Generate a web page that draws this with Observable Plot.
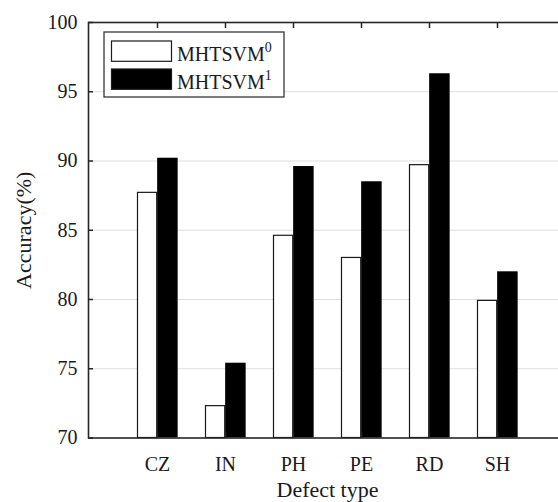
<!DOCTYPE html>
<html><head><meta charset="utf-8">
<script src="https://cdn.jsdelivr.net/npm/d3@7"></script>
<script src="https://cdn.jsdelivr.net/npm/@observablehq/plot@0.6"></script>
<style>
body{margin:0;background:#fff;}
#wrap{position:relative;width:558px;height:502px;overflow:hidden;}
</style></head>
<body><div id="wrap"></div>
<script>
const categories = ["CZ", "IN", "PH", "PE", "RD", "SH"];
const mhtsvm0 = [87.7, 72.3, 84.6, 83.0, 89.7, 79.9];
const mhtsvm1 = [90.2, 75.4, 89.6, 88.5, 96.3, 82.0];
const yTicks = [70, 75, 80, 85, 90, 95, 100];
const seriesNames = ["MHTSVM", "MHTSVM"];
const seriesSup = ["0", "1"];
const seriesFill = ["#ffffff", "#000000"];

const FONT = "'Liberation Serif', serif";
const INK = "#262626";

const data0 = categories.map((c, i) => ({cat: c, value: mhtsvm0[i]}));
const data1 = categories.map((c, i) => ({cat: c, value: mhtsvm1[i]}));

const chart = Plot.plot({
  width: 558, height: 502,
  marginLeft: 88, marginTop: 22, marginBottom: 64.5, marginRight: -8,
  style: {fontFamily: FONT, fontSize: "20px", color: INK, background: "#fff"},
  x: {domain: categories, range: [88, 566], paddingInner: 0, paddingOuter: 0.5, axis: null},
  y: {domain: [70, 100], range: [437.5, 22], axis: null},
  marks: [
    Plot.gridY(yTicks.slice(1, -1), {stroke: "#dedede", strokeOpacity: 1, strokeWidth: 1.2}),
    Plot.barY(data0, {x: "cat", y1: 70, y2: "value", fill: seriesFill[0], stroke: "#1a1a1a", strokeWidth: 1.2, insetLeft: 24.4, insetRight: 24.4, dx: -9.9}),
    Plot.barY(data1, {x: "cat", y1: 70, y2: "value", fill: seriesFill[1], insetLeft: 23.75, insetRight: 23.75, dx: 10.4}),
    Plot.axisY(yTicks, {anchor: "left", tickSize: 0, tickPadding: 11, fontSize: 20, fontFamily: FONT, label: null, fill: "#1a1a1a"}),
    Plot.axisY(yTicks, {anchor: "left", tickSize: -5, tickFormat: () => "", label: null, stroke: INK, strokeWidth: 1.5}),
    Plot.axisX({anchor: "bottom", tickSize: 0, tickPadding: 18.3, fontSize: 20, fontFamily: FONT, label: null, fill: "#1a1a1a"}),
    Plot.axisX({anchor: "bottom", tickSize: -5, tickFormat: () => "", label: null, stroke: INK, strokeWidth: 1.5}),
    Plot.axisX({anchor: "top", tickSize: -5, tickFormat: () => "", label: null, stroke: INK, strokeWidth: 1.5}),
    Plot.frame({stroke: INK, strokeWidth: 1.6}),
    Plot.text(["Accuracy(%)"], {frameAnchor: "left", textAnchor: "middle", rotate: -90, dx: -65, fontSize: 22, fontFamily: FONT, fill: "#1a1a1a"}),
    Plot.text(["Defect type"], {frameAnchor: "bottom", textAnchor: "middle", lineAnchor: "bottom", dy: 58.5, fontSize: 22, fontFamily: FONT, fill: "#1a1a1a"})
  ]
});

// Legend inside the plot area (MATLAB-style)
const svg = d3.select(chart);
const lg = svg.append("g").attr("font-family", FONT).attr("fill", "#1a1a1a").attr("text-anchor", "start");
lg.append("rect").attr("x", 104).attr("y", 32).attr("width", 180).attr("height", 65)
  .attr("fill", "#fff").attr("stroke", INK).attr("stroke-width", 1.2);
const rows = [{sy: 41, ty: 61.3}, {sy: 69, ty: 89}];
seriesNames.forEach((name, i) => {
  lg.append("rect").attr("x", 111.5).attr("y", rows[i].sy).attr("width", 60).attr("height", 20.3)
    .attr("fill", seriesFill[i]).attr("stroke", "#1a1a1a").attr("stroke-width", 1.2);
  const t = lg.append("text").attr("x", 177).attr("y", rows[i].ty).attr("font-size", 20).attr("text-anchor", "start");
  t.append("tspan").text(name);
  t.append("tspan").attr("dy", -9).attr("font-size", 14).text(seriesSup[i]);
});

document.getElementById("wrap").appendChild(chart);
</script>
</body></html>
